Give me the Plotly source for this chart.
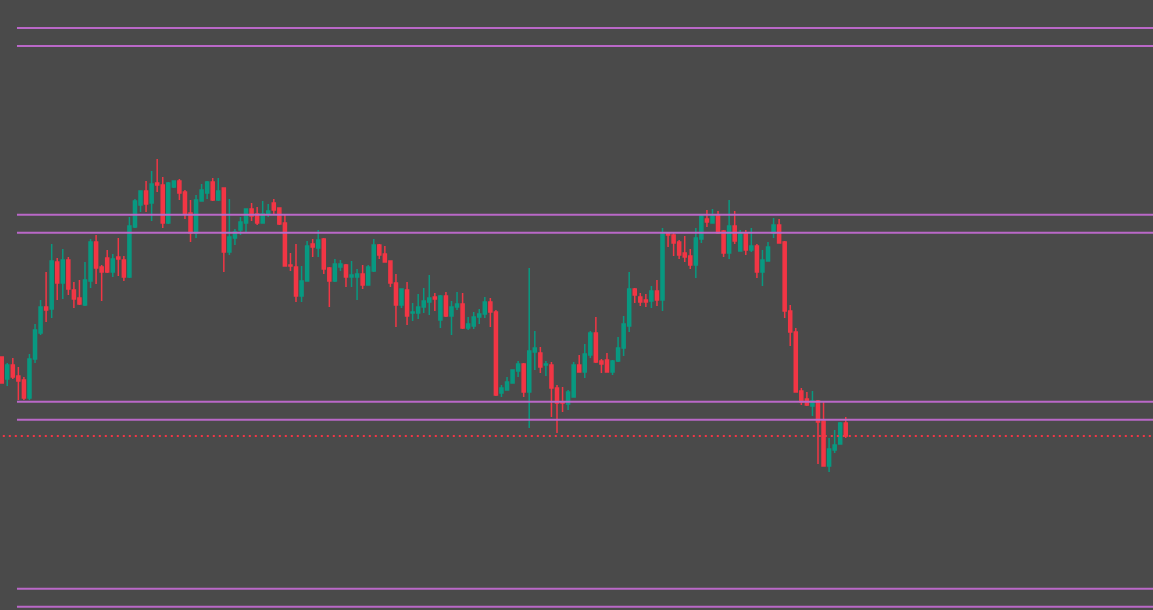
import plotly.graph_objects as go

# ---- data (price points; higher = up) ----
opens = [253,231,245,234,230,212,251,277,303,301,348,327,350,320,312,305,329,368,343,352,
         338,353,350,333,383,405,419,407,427,425,387,423,429,418,397,377,409,417,428,410,
         422,358,372,380,387,401,396,387,396,407,402,387,345,343,314,329,366,362,371,342,
         329,343,345,333,333,336,325,339,365,356,349,327,305,320,297,297,303,308,313,290,
         314,294,303,306,282,284,293,296,308,298,217,220,227,239,246,218,258,257,245,245,
         222,208,206,213,245,238,255,277,249,250,238,249,262,284,321,313,310,309,319,310,
         377,375,368,357,354,345,371,391,387,395,379,357,384,359,377,360,364,338,349,377,
         385,368,299,278,219,211,204,209,189,144,160,166,187]
highs = [253,247,252,243,233,256,286,310,338,366,352,361,353,328,330,348,371,375,345,360,
         356,372,354,393,411,419,429,439,451,433,428,429,431,420,410,415,426,429,432,432,
         422,411,381,393,401,407,403,409,406,411,402,395,357,366,344,369,371,380,372,343,
         351,350,346,349,341,345,345,371,366,364,349,336,321,328,307,316,322,335,317,315,
         318,309,318,317,293,298,301,313,312,300,225,233,240,249,247,342,279,263,249,248,
         225,223,220,248,255,266,279,293,251,257,250,273,294,338,322,317,316,324,330,382,
         377,377,370,374,361,382,396,400,401,399,380,410,399,380,380,382,366,360,368,392,
         391,369,305,282,222,218,219,210,208,172,180,188,193]
lows = [227,224,231,210,210,210,247,275,288,292,310,311,315,302,305,304,322,326,309,337,
        333,334,329,332,382,398,398,389,418,382,386,422,410,391,368,372,409,411,409,409,
        338,355,365,375,377,389,385,387,393,396,385,344,339,308,308,329,353,353,336,303,
        328,339,323,323,310,321,325,338,351,348,323,283,302,285,289,291,297,295,299,282,
        293,275,300,281,280,281,286,292,283,214,213,220,227,233,213,182,240,237,234,193,
        177,198,200,213,238,232,252,247,237,238,235,248,254,278,307,304,303,302,304,299,
        363,354,351,348,341,332,367,383,387,376,353,351,366,359,355,358,332,324,349,372,
        367,292,264,218,205,204,194,146,144,138,157,166,172]
closes = [227,245,233,229,212,251,280,303,300,349,327,350,321,311,306,330,368,342,338,338,
          351,351,333,384,409,419,406,426,425,387,427,429,417,396,377,410,420,428,410,419,
          358,373,378,388,401,394,387,396,399,400,386,344,344,314,329,364,363,370,341,329,
          346,346,333,335,336,325,343,365,355,348,327,305,321,294,298,303,309,312,311,314,
          294,303,306,282,286,293,296,308,298,215,222,228,240,246,218,259,262,243,246,222,
          207,207,218,245,238,256,277,248,246,238,249,262,286,321,315,308,308,319,310,376,
          375,367,355,353,345,372,394,388,394,377,357,384,369,376,360,364,338,350,363,385,
          367,299,278,218,208,205,209,188,144,161,165,187,174]
bars = list(range(len(opens)))

# horizontal levels (price) and where they start (bar index)
levels = [582, 564, 395.3, 377.3, 208.3, 190.3, 21.3, 3.3]
levels_start_bar = 2.75
last_price = closes[-1]

UP = "#089981"
DOWN = "#F23645"
LEVEL_COLOR = "#BA68C8"
BG = "#4A4A4A"

fig = go.Figure()
fig.add_trace(go.Candlestick(
    x=bars, open=opens, high=highs, low=lows, close=closes,
    increasing=dict(line=dict(color=UP, width=1.5), fillcolor=UP),
    decreasing=dict(line=dict(color=DOWN, width=1.5), fillcolor=DOWN),
    whiskerwidth=0, hoverinfo="skip", showlegend=False,
))

x_end = 400
for lv in levels:
    fig.add_trace(go.Scatter(
        x=[levels_start_bar, x_end], y=[lv, lv], mode="lines",
        line=dict(color=LEVEL_COLOR, width=2), hoverinfo="skip", showlegend=False,
    ))

fig.add_trace(go.Scatter(
    x=[0.2, x_end], y=[last_price, last_price], mode="lines",
    line=dict(color=DOWN, width=2, dash="2px,4px"), hoverinfo="skip", showlegend=False,
))

fig.update_layout(
    width=1153, height=610,
    margin=dict(l=0, r=0, t=0, b=0),
    paper_bgcolor=BG, plot_bgcolor=BG,
    boxgap=0.22,
    showlegend=False,
    xaxis=dict(visible=False, range=[-0.306, 207.33], rangeslider=dict(visible=False),
               showgrid=False, zeroline=False),
    yaxis=dict(visible=False, range=[0, 610], showgrid=False, zeroline=False),
)

fig.write_html("out.html", config={"displayModeBar": False},
               post_script="document.body.style.margin='0';document.body.style.background='#4A4A4A';")
